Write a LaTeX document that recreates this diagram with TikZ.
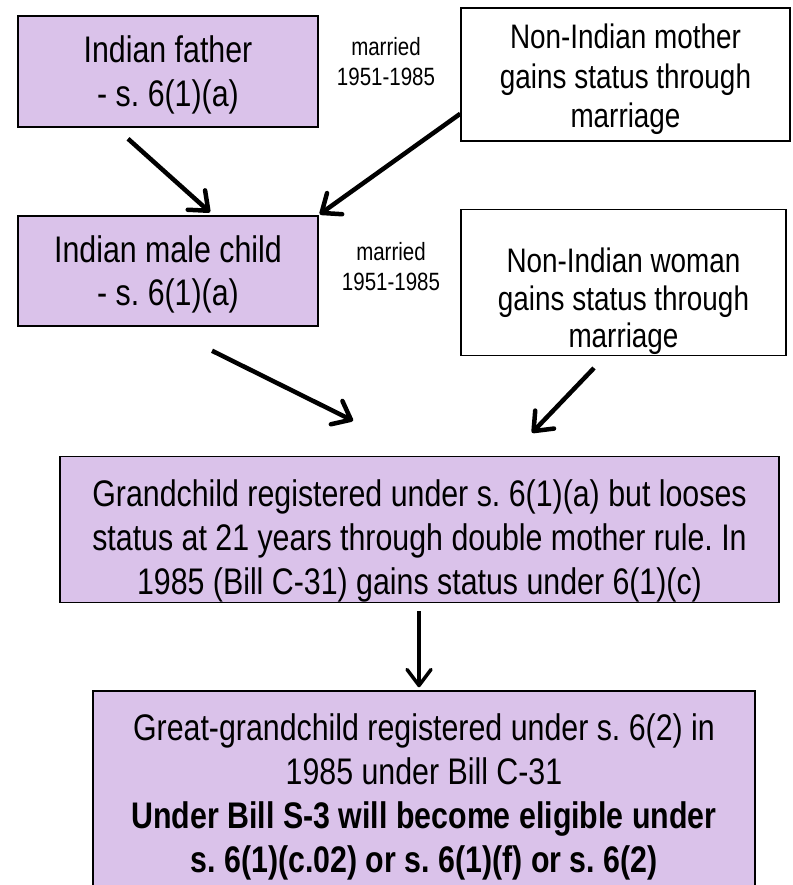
\documentclass[tikz,border=0pt]{standalone}
\usepackage{fontspec}
\setmainfont{Liberation Sans}[FakeStretch=0.82]
\usetikzlibrary{arrows.meta,calc}
\definecolor{lav}{RGB}{218,194,234}
\newcommand\tstrut[1]{\rule{0pt}{#1}}
\newcommand\bstrut[1]{\rule[-#1]{0pt}{#1}}
\frenchspacing
\begin{document}
\begin{tikzpicture}[x=1pt,y=-1pt,
  box/.style={draw=black,line width=1.5pt,inner sep=0pt,align=center,anchor=center},
  pbox/.style={box,fill=lav},
  wbox/.style={box,fill=white},
  marr/.style={align=center,inner sep=0pt,font=\fontsize{25}{30}\selectfont},
  conn/.style={line width=4.5pt,-{Straight Barb[length=16pt,width=26pt,round]}},
  vconn/.style={line width=3.5pt,-{Straight Barb[length=16pt,width=24pt,round]}},
]
\useasboundingbox (0,0) rectangle (792,885);
\fill[white] (0,0) rectangle (792,885);

\node[pbox,minimum width=300pt,minimum height=111pt,font=\fontsize{37}{44}\selectfont] (b1) at (168,71.5)
  {\tstrut{35pt}Indian father\\- s. 6(1)(a)\bstrut{8pt}};
\node[wbox,minimum width=329pt,minimum height=133pt,font=\fontsize{34}{39.5}\selectfont] (b2) at (625.5,74.5)
  {\tstrut{35.5pt}Non-Indian mother\\gains status through\\marriage\bstrut{7.5pt}};
\node[marr] (m1) at (386,62) {married\\1951-1985};

\node[pbox,minimum width=300pt,minimum height=110pt,font=\fontsize{37}{43}\selectfont] (b3) at (168,271)
  {\tstrut{34pt}Indian male child\\- s. 6(1)(a)\bstrut{8pt}};
\node[wbox,minimum width=325pt,minimum height=133pt,font=\fontsize{34}{37.5}\selectfont] (b4) at (623.5,282.5)
  {\tstrut{63pt}Non-Indian woman\\gains status through\\marriage\bstrut{7.5pt}};
\node[marr] (m2) at (391,267) {married\\1951-1985};

\node[pbox,minimum width=719pt,minimum height=143pt,font=\fontsize{37}{44}\selectfont] (b5) at (419.5,529.5)
  {\tstrut{50pt}Grandchild registered under s. 6(1)(a) but looses\\status at 21 years through double mother rule. In\\1985 (Bill C-31) gains status under 6(1)(c)\bstrut{8pt}};

\node[pbox,minimum width=662pt,minimum height=214pt,font=\fontsize{37}{44}\selectfont] (b6) at (424,798)
  {\tstrut{30pt}Great-grandchild registered under s. 6(2) in\\1985 under Bill C-31\\\textbf{Under Bill S-3 will become eligible under}\\\textbf{s. 6(1)(c.02) or s. 6(1)(f) or s. 6(2)}\bstrut{14pt}};

\draw[conn] ($(b1.south)+(-40,11)$) -- ($(b3.north)+(42,-3)$);
\draw[conn] ($(b2.south west)+(0,-28)$) -- ($(b3.north east)+(1,-1)$);
\draw[conn] ($(b3.south)+(44,24)$) -- ($(b5.north)+(-66.5,-35)$);
\draw[conn] ($(b4.south)+(-29.5,12)$) -- ($(b5.north)+(112.5,-23)$);
\draw[vconn] ($(b5.south)+(-0.5,8)$) -- ($(b6.north)+(-5,-3)$);
\end{tikzpicture}
\end{document}
